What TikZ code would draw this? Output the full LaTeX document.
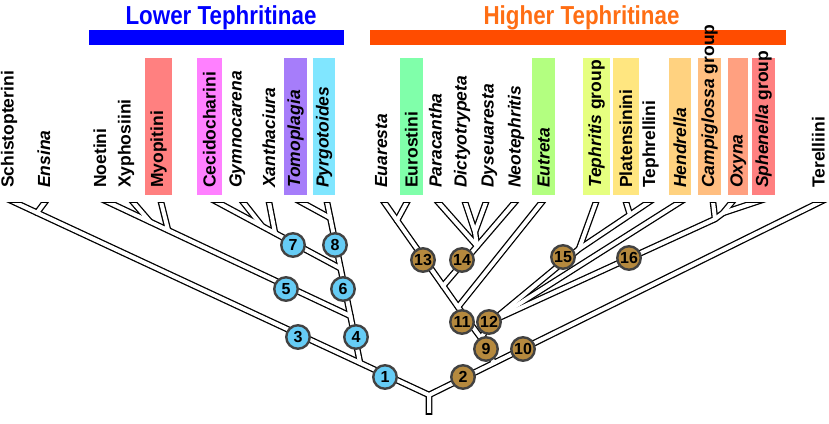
\documentclass[tikz,border=0pt]{standalone}
\usepackage{fontspec}
\setmainfont{Liberation Sans}
\definecolor{nodeblue}{RGB}{102,204,245}
\definecolor{nodebrown}{RGB}{181,137,62}
\definecolor{lowblue}{RGB}{0,0,255}
\definecolor{hitext}{RGB}{255,110,20}
\definecolor{hibar}{RGB}{255,76,0}
\definecolor{cMyo}{RGB}{255,128,128}
\definecolor{cCec}{RGB}{255,128,255}
\definecolor{cTom}{RGB}{166,125,250}
\definecolor{cPyr}{RGB}{128,230,255}
\definecolor{cEur}{RGB}{128,255,170}
\definecolor{cEut}{RGB}{179,255,128}
\definecolor{cTph}{RGB}{230,255,128}
\definecolor{cPla}{RGB}{255,230,128}
\definecolor{cHen}{RGB}{255,210,128}
\definecolor{cCam}{RGB}{255,190,128}
\definecolor{cOxy}{RGB}{255,160,128}
\definecolor{cSph}{RGB}{255,128,128}
\newcommand\treepaths[1]{%
  \draw[#1] (tS) -- (R) -- (Rb);
  \draw[#1] (tEn) -- (JE);
  \draw[#1] (tN) -- (J5);
  \draw[#1] (tXy) -- (JXy);
  \draw[#1] (tM) -- (JM);
  \draw[#1] (tP) -- (J4);
  \draw[#1] (tTo) -- (JT);
  \draw[#1] (tC) -- (J7);
  \draw[#1] (tG) -- (JG);
  \draw[#1] (tXa) -- (JXa);
  \draw[#1] (tTe) -- (R);
  \draw[#1] (tEa) -- (JEE) -- (J9) -- (J9b);
  \draw[#1] (tEu) -- (JEu);
  \draw[#1] (tNe) -- (J13b);
  \draw[#1] (tPa) -- (J14t);
  \draw[#1] (tDi) -- (JDD) -- (J14t);
  \draw[#1] (tDy) -- (JDD);
  \draw[#1] (tEt) -- (JEE);
  \draw[#1] (tTl) -- (J15) -- (J12) -- (J9);
  \draw[#1] (tPl) -- (JPT);
  \draw[#1] (tTh) -- (J15);
  \draw[#1] (tH) -- (J12);
  \draw[#1] (tCa) -- (JC) -- (J12);
  \draw[#1] (tO) -- (JOS) -- (JC);
  \draw[#1] (tSp) -- (JOS);
}
\begin{document}
\begin{tikzpicture}[x=1pt,y=-1pt,
  lab/.style={font=\bfseries\fontsize{17.5}{17.5}\selectfont, rotate=90, anchor=base west, inner sep=0pt},
  ilab/.style={lab, font=\bfseries\itshape\fontsize{17.5}{17.5}\selectfont},
  blk/.style={line width=6.6pt, black, line cap=round, line join=round, shorten <=-12pt},
  wht/.style={line width=4pt, white, line cap=round, line join=round, shorten <=-12pt},
  bnode/.style={circle, draw=black!74, line width=2.4pt, fill=nodeblue, minimum size=23.5pt, inner sep=0pt, font=\bfseries\fontsize{16}{16}\selectfont},
  rnode/.style={bnode, fill=nodebrown},
  head/.style={font=\bfseries\fontsize{26}{26}\selectfont, anchor=base, inner sep=0pt}]
\useasboundingbox (0,0) rectangle (829,423);
\fill[white] (0,0) rectangle (829,423);
% headers
\fill[lowblue] (89,30) rectangle (344,45);
\fill[hibar] (370,30) rectangle (786,45);
\node[head, text=lowblue] (hlow) at (221,24) {\scalebox{0.86}[1]{Lower Tephritinae}};
\node[head, text=hitext] (hhigh) at (581.5,24) {\scalebox{0.86}[1]{Higher Tephritinae}};
% coloured boxes
\fill[cMyo] (145,58) rectangle (172,195);
\fill[cCec] (197,58) rectangle (222,195);
\fill[cTom] (284,58) rectangle (307,195);
\fill[cPyr] (313,58) rectangle (335,195);
\fill[cEur] (400,58) rectangle (423,195);
\fill[cEut] (532,58) rectangle (555,195);
\fill[cTph] (583,58) rectangle (610,195);
\fill[cPla] (613,58) rectangle (639,195);
\fill[cHen] (669,58) rectangle (691,195);
\fill[cCam] (698,58) rectangle (721,195);
\fill[cOxy] (728,58) rectangle (748,195);
\fill[cSph] (752,58) rectangle (775,195);
% labels
\node[lab]  (lSch) at (13.5,188) {Schistopterini};
\node[ilab] (lEns) at (50,188) {Ensina};
\node[lab]  (lNoe) at (106,188) {Noetini};
\node[lab]  (lXyp) at (130.5,188) {Xyphosiini};
\node[lab]  (lMyo) at (163,188) {Myopitini};
\node[lab]  (lCec) at (215.5,188) {Cecidocharini};
\node[ilab] (lGym) at (241.5,188) {Gymnocarena};
\node[ilab] (lXan) at (275,188) {Xanthaciura};
\node[ilab] (lTom) at (300,188) {Tomoplagia};
\node[ilab] (lPyr) at (328.5,188) {Pyrgotoides};
\node[ilab] (lEua) at (387,188) {Euaresta};
\node[lab]  (lEur) at (417.5,188) {Eurostini};
\node[ilab] (lPar) at (441.5,188) {Paracantha};
\node[ilab] (lDic) at (466.5,188) {Dictyotrypeta};
\node[ilab] (lDys) at (493.5,188) {Dyseuaresta};
\node[ilab] (lNeo) at (520.5,188) {Neotephritis};
\node[ilab] (lEut) at (549.5,188) {Eutreta};
\node[lab]  (lTph) at (601,188) {\textit{Tephritis} group};
\node[lab]  (lPla) at (632,188) {Platensinini};
\node[lab]  (lTpl) at (655,188) {Tephrellini};
\node[ilab] (lHen) at (686,188) {Hendrella};
\node[lab]  (lCam) at (714,188) {\textit{Campiglossa} group};
\node[ilab] (lOxy) at (742.5,188) {Oxyna};
\node[lab]  (lSph) at (768,188) {\textit{Sphenella} group};
\node[lab]  (lTer) at (824.5,188) {Terelliini};
% tree coordinates
\coordinate (R) at (429,395);
\coordinate (Rb) at (429,430);
\coordinate (tS) at (14,202);
\coordinate (tEn) at (45,202);   \coordinate (JE) at (37,212.7);
\coordinate (tN) at (108,202);   \coordinate (J5) at (350.5,316);
\coordinate (tXy) at (133,202);  \coordinate (JXy) at (150,221.7);
\coordinate (tM) at (161,202);   \coordinate (JM) at (168,230);
\coordinate (tP) at (327,202);   \coordinate (J4) at (360,362.5);
\coordinate (tTo) at (301,202);  \coordinate (JT) at (330.3,218);
\coordinate (tC) at (217,202);   \coordinate (J7) at (340.6,268.4);
\coordinate (tG) at (243,202);   \coordinate (JG) at (262,226);
\coordinate (tXa) at (269,202);  \coordinate (JXa) at (275,233);
\coordinate (tTe) at (820,202);
\coordinate (tEa) at (384,202);  \coordinate (JEE) at (458,307);
\coordinate (J9) at (481,338);   \coordinate (J9b) at (494,363);
\coordinate (tEu) at (407,202);  \coordinate (JEu) at (397,220.5);
\coordinate (tNe) at (515,202);  \coordinate (J13b) at (443,286);
\coordinate (tPa) at (438,202);  \coordinate (J14t) at (477,246);
\coordinate (tDi) at (465,202);  \coordinate (JDD) at (475,232);
\coordinate (tDy) at (486,202);
\coordinate (tEt) at (542,202);
\coordinate (tTl) at (649,202);  \coordinate (J15) at (579,249);
\coordinate (J12) at (492,321);
\coordinate (tPl) at (626,202);  \coordinate (JPT) at (630,214.8);
\coordinate (tTh) at (596,202);
\coordinate (tH) at (680,202);
\coordinate (tCa) at (713,202);  \coordinate (JC) at (715,219);
\coordinate (tO) at (732,202);   \coordinate (JOS) at (723,213);
\coordinate (tSp) at (756,202);
% tree drawn as outlined double lines
\begin{scope}
  \clip (0,202) rectangle (829,414);
  \treepaths{blk}
\end{scope}
\begin{scope}
  \clip (0,203.3) rectangle (829,412.7);
  \treepaths{wht}
\end{scope}
% numbered nodes
\node[bnode] (n1) at (385,377) {1};
\node[bnode] (n3) at (298,337) {3};
\node[bnode] (n4) at (356,337) {4};
\node[bnode] (n5) at (286,289) {5};
\node[bnode] (n6) at (343,289) {6};
\node[bnode] (n7) at (293,245) {7};
\node[bnode] (n8) at (335,245) {8};
\node[rnode] (n2) at (463,377) {2};
\node[rnode] (n9) at (486,349) {9};
\node[rnode] (n10) at (523,349) {10};
\node[rnode] (n11) at (462,322) {11};
\node[rnode] (n12) at (489,322) {12};
\node[rnode] (n13) at (423,260) {13};
\node[rnode] (n14) at (462,260) {14};
\node[rnode] (n15) at (563,257) {15};
\node[rnode] (n16) at (629,258) {16};
\end{tikzpicture}
\end{document}
